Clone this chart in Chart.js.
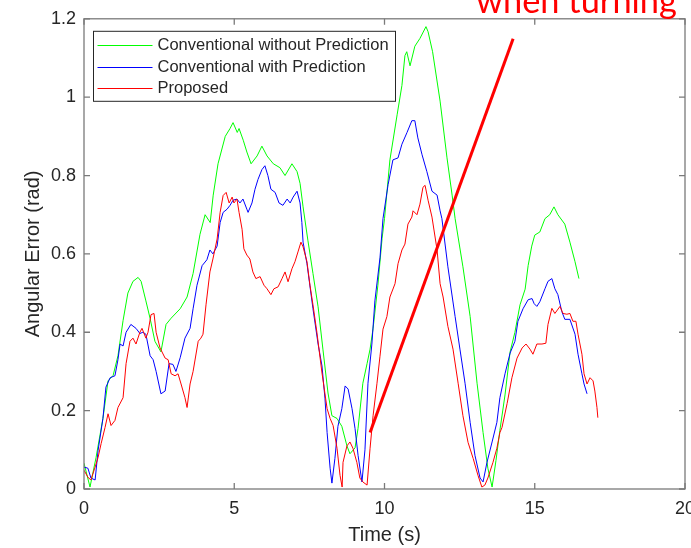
<!DOCTYPE html>
<html>
<head>
<meta charset="utf-8">
<title>Angular error</title>
<script src="https://cdn.jsdelivr.net/npm/chart.js@4.4.1/dist/chart.umd.min.js"></script>
<style>
  html, body { margin: 0; padding: 0; background: #fff; }
  canvas { display: block; }
</style>
</head>
<body>
<canvas id="chart" width="691" height="548"></canvas>
<script>
const xTicks = [0, 5, 10, 15, 20];
const yTicks = [0, 0.2, 0.4, 0.6, 0.8, 1, 1.2];
const yTickLabels = ["0", "0.2", "0.4", "0.6", "0.8", "1", "1.2"];

const seriesNames = [
  "Conventional without Prediction",
  "Conventional with Prediction",
  "Proposed",
];
const seriesColors = ["#00ff00", "#0000ff", "#ff0000"];

// Conventional without Prediction (green)
const noPredTime = [0, 0.2, 0.4, 0.63, 0.8, 0.97, 1.13, 1.3, 1.46, 1.63, 1.8, 1.9, 2.06, 2.2, 2.36, 2.56, 2.73, 2.9, 3.2, 3.43, 3.63, 3.86, 4.03, 4.2, 4.3, 4.46, 4.7, 4.86, 4.96, 5.1, 5.16, 5.3, 5.42, 5.56, 5.76, 5.92, 6.09, 6.3, 6.52, 6.69, 6.92, 7.09, 7.19, 7.29, 7.45, 7.62, 7.79, 7.95, 8.12, 8.25, 8.42, 8.58, 8.75, 8.85, 9.02, 9.12, 9.28, 9.42, 9.52, 9.62, 9.78, 9.92, 10.0, 10.18, 10.42, 10.58, 10.68, 10.74, 10.85, 11.01, 11.18, 11.38, 11.45, 11.6, 11.85, 12.08, 12.25, 12.35, 12.61, 12.85, 13.08, 13.28, 13.44, 13.58, 13.71, 13.84, 14.01, 14.18, 14.34, 14.51, 14.68, 14.78, 14.9, 15.0, 15.17, 15.34, 15.5, 15.64, 15.77, 16.0, 16.17, 16.34, 16.47];
const noPredErr = [0.066, 0.005, 0.08, 0.18, 0.276, 0.29, 0.34, 0.43, 0.5, 0.53, 0.54, 0.53, 0.48, 0.435, 0.377, 0.35, 0.42, 0.436, 0.46, 0.49, 0.55, 0.65, 0.7, 0.68, 0.75, 0.83, 0.9, 0.92, 0.935, 0.91, 0.92, 0.89, 0.86, 0.83, 0.85, 0.875, 0.85, 0.83, 0.82, 0.8, 0.83, 0.81, 0.78, 0.72, 0.635, 0.55, 0.465, 0.357, 0.245, 0.187, 0.18, 0.16, 0.11, 0.09, 0.105, 0.155, 0.27, 0.32, 0.357, 0.41, 0.52, 0.64, 0.69, 0.84, 0.955, 1.03, 1.106, 1.116, 1.08, 1.13, 1.15, 1.18, 1.167, 1.116, 0.99, 0.845, 0.75, 0.69, 0.567, 0.44, 0.27, 0.144, 0.053, 0.005, 0.073, 0.15, 0.24, 0.35, 0.4, 0.47, 0.51, 0.57, 0.62, 0.648, 0.656, 0.69, 0.7, 0.72, 0.7, 0.676, 0.63, 0.58, 0.537];

// Conventional with Prediction (blue)
const withPredTime = [0, 0.13, 0.23, 0.37, 0.47, 0.63, 0.73, 0.87, 1.03, 1.13, 1.2, 1.3, 1.4, 1.56, 1.73, 1.86, 1.96, 2.06, 2.2, 2.3, 2.4, 2.56, 2.7, 2.83, 2.96, 3.06, 3.2, 3.36, 3.53, 3.63, 3.76, 3.93, 4.09, 4.19, 4.29, 4.43, 4.53, 4.63, 4.76, 4.86, 4.96, 5.09, 5.19, 5.29, 5.42, 5.46, 5.59, 5.69, 5.79, 5.92, 6.02, 6.12, 6.22, 6.36, 6.49, 6.62, 6.76, 6.86, 6.96, 7.09, 7.19, 7.25, 7.29, 7.42, 7.55, 7.62, 7.79, 7.92, 8.02, 8.09, 8.19, 8.25, 8.35, 8.45, 8.58, 8.69, 8.79, 8.92, 9.02, 9.12, 9.25, 9.35, 9.45, 9.58, 9.68, 9.85, 9.95, 10.12, 10.28, 10.45, 10.58, 10.75, 10.91, 11.01, 11.11, 11.25, 11.41, 11.58, 11.75, 11.85, 11.91, 12.11, 12.35, 12.51, 12.68, 12.85, 13.01, 13.18, 13.28, 13.41, 13.58, 13.74, 13.84, 14.01, 14.18, 14.34, 14.44, 14.61, 14.78, 14.91, 14.98, 15.07, 15.17, 15.34, 15.44, 15.57, 15.67, 15.77, 15.9, 16.0, 16.17, 16.34, 16.44, 16.57, 16.64, 16.74];
const withPredErr = [0.056, 0.053, 0.028, 0.023, 0.099, 0.18, 0.26, 0.284, 0.289, 0.33, 0.37, 0.365, 0.4, 0.42, 0.41, 0.397, 0.4, 0.395, 0.34, 0.33, 0.3, 0.243, 0.25, 0.32, 0.318, 0.3, 0.335, 0.385, 0.41, 0.46, 0.52, 0.57, 0.585, 0.61, 0.6, 0.62, 0.68, 0.706, 0.714, 0.724, 0.737, 0.74, 0.73, 0.74, 0.714, 0.706, 0.73, 0.765, 0.79, 0.815, 0.825, 0.8, 0.765, 0.757, 0.73, 0.724, 0.74, 0.73, 0.745, 0.76, 0.73, 0.68, 0.63, 0.575, 0.5, 0.46, 0.37, 0.314, 0.23, 0.144, 0.053, 0.015, 0.078, 0.16, 0.205, 0.263, 0.255, 0.205, 0.154, 0.086, 0.018, 0.1, 0.27, 0.37, 0.48, 0.59, 0.69, 0.777, 0.84, 0.845, 0.88, 0.91, 0.94, 0.94, 0.896, 0.853, 0.81, 0.76, 0.75, 0.71, 0.69, 0.567, 0.44, 0.357, 0.27, 0.17, 0.086, 0.028, 0.018, 0.068, 0.12, 0.17, 0.233, 0.294, 0.347, 0.377, 0.428, 0.46, 0.483, 0.486, 0.473, 0.466, 0.478, 0.511, 0.53, 0.537, 0.511, 0.496, 0.453, 0.433, 0.433, 0.395, 0.344, 0.294, 0.268, 0.243];

// Proposed (red)
const proposedTime = [0, 0.13, 0.23, 0.37, 0.47, 0.57, 0.7, 0.8, 0.9, 1.03, 1.13, 1.3, 1.4, 1.53, 1.63, 1.73, 1.86, 1.93, 2.06, 2.13, 2.23, 2.33, 2.4, 2.53, 2.7, 2.8, 2.9, 3.03, 3.13, 3.23, 3.36, 3.43, 3.53, 3.63, 3.8, 3.89, 3.96, 4.06, 4.19, 4.29, 4.43, 4.53, 4.63, 4.73, 4.83, 4.93, 4.99, 5.09, 5.16, 5.26, 5.32, 5.42, 5.52, 5.62, 5.72, 5.86, 5.99, 6.09, 6.22, 6.32, 6.46, 6.59, 6.69, 6.79, 6.92, 7.02, 7.12, 7.22, 7.29, 7.42, 7.52, 7.62, 7.75, 7.92, 8.09, 8.19, 8.29, 8.42, 8.52, 8.59, 8.62, 8.75, 8.85, 8.95, 9.08, 9.18, 9.28, 9.42, 9.52, 9.62, 9.75, 9.85, 9.95, 10.08, 10.18, 10.35, 10.45, 10.58, 10.68, 10.78, 10.91, 10.95, 11.08, 11.18, 11.28, 11.35, 11.45, 11.58, 11.75, 11.85, 11.95, 12.11, 12.28, 12.45, 12.61, 12.78, 12.95, 13.11, 13.24, 13.34, 13.44, 13.61, 13.74, 13.84, 13.91, 14.08, 14.24, 14.41, 14.58, 14.71, 14.84, 14.94, 15.07, 15.24, 15.37, 15.44, 15.57, 15.67, 15.84, 15.94, 16.07, 16.17, 16.27, 16.37, 16.44, 16.57, 16.64, 16.74, 16.84, 16.94, 17.0, 17.07, 17.1];
const proposedErr = [0.048, 0.03, 0.023, 0.056, 0.081, 0.116, 0.157, 0.192, 0.162, 0.175, 0.208, 0.233, 0.32, 0.377, 0.385, 0.37, 0.4, 0.41, 0.385, 0.4, 0.445, 0.448, 0.4, 0.36, 0.334, 0.33, 0.294, 0.289, 0.294, 0.268, 0.233, 0.208, 0.268, 0.3, 0.377, 0.385, 0.395, 0.47, 0.554, 0.587, 0.638, 0.706, 0.749, 0.757, 0.73, 0.745, 0.73, 0.74, 0.706, 0.663, 0.613, 0.597, 0.587, 0.554, 0.537, 0.542, 0.52, 0.511, 0.496, 0.511, 0.516, 0.537, 0.554, 0.529, 0.562, 0.58, 0.605, 0.63, 0.618, 0.58, 0.52, 0.47, 0.4, 0.296, 0.205, 0.18, 0.162, 0.104, 0.035, 0.005, 0.068, 0.11, 0.12, 0.104, 0.068, 0.028, 0.018, 0.01, 0.104, 0.187, 0.27, 0.339, 0.408, 0.44, 0.49, 0.524, 0.575, 0.61, 0.625, 0.676, 0.694, 0.71, 0.7, 0.727, 0.77, 0.775, 0.737, 0.694, 0.61, 0.524, 0.49, 0.415, 0.357, 0.27, 0.187, 0.119, 0.078, 0.035, 0.005, 0.01, 0.028, 0.068, 0.104, 0.144, 0.157, 0.218, 0.284, 0.334, 0.36, 0.37, 0.357, 0.344, 0.37, 0.37, 0.372, 0.42, 0.461, 0.448, 0.466, 0.448, 0.446, 0.448, 0.428, 0.428, 0.395, 0.344, 0.294, 0.268, 0.284, 0.276, 0.25, 0.208, 0.182];

// hand-drawn red marker line and its note
const markTime = [9.52, 14.28];
const markErr = [0.144, 1.149];
const noteText = "when turning";

const axisFont = '"Liberation Sans", Arial, sans-serif';
const textColor = "#262626";

function toPoints(xs, ys) {
  return xs.map((x, i) => ({ x: x, y: ys[i] }));
}

function lineSet(label, xs, ys, color, order) {
  return {
    label: label,
    data: toPoints(xs, ys),
    borderColor: color,
    borderWidth: 1,
    pointRadius: 0,
    tension: 0,
    fill: false,
    borderJoinStyle: "round",
    order: order,
  };
}

// axes box with inward ticks, like MATLAB
const framePlugin = {
  id: "frame",
  afterDatasetsDraw(chart) {
    const { ctx, chartArea: a, scales } = chart;
    const tl = 6;
    ctx.save();
    ctx.strokeStyle = "#7a7a7a";
    ctx.lineWidth = 1.3;
    ctx.strokeRect(a.left, a.top, a.right - a.left, a.bottom - a.top);
    ctx.beginPath();
    xTicks.forEach((v) => {
      const px = scales.x.getPixelForValue(v);
      ctx.moveTo(px, a.bottom);
      ctx.lineTo(px, a.bottom - tl);
      ctx.moveTo(px, a.top);
      ctx.lineTo(px, a.top + tl);
    });
    yTicks.forEach((v) => {
      const py = scales.y.getPixelForValue(v);
      ctx.moveTo(a.left, py);
      ctx.lineTo(a.left + tl, py);
      ctx.moveTo(a.right, py);
      ctx.lineTo(a.right - tl, py);
    });
    ctx.stroke();
    ctx.restore();
  },
};

const legendPlugin = {
  id: "boxLegend",
  afterDraw(chart) {
    const { ctx, chartArea: a } = chart;
    const x0 = a.left + 9.5;
    const y0 = a.top + 12.5;
    ctx.save();
    ctx.fillStyle = "#fff";
    ctx.fillRect(x0, y0, 302, 70);
    ctx.strokeStyle = "#262626";
    ctx.lineWidth = 1;
    ctx.strokeRect(x0, y0, 302, 70);
    ctx.font = "16.5px " + axisFont;
    ctx.textBaseline = "middle";
    seriesNames.forEach((name, i) => {
      const y = Math.round(y0 + 14 + i * 21.5) + 0.5;
      ctx.strokeStyle = seriesColors[i];
      ctx.beginPath();
      ctx.moveTo(x0 + 4, y);
      ctx.lineTo(x0 + 59, y);
      ctx.stroke();
      ctx.fillStyle = textColor;
      ctx.fillText(name, x0 + 64, y);
    });

    // the red note, cut off at the top of the picture
    ctx.font = "30px Lato";
    const w = ctx.measureText(noteText).width;
    ctx.font = (30 * 201) / w + "px Lato";
    ctx.fillStyle = "#ff0000";
    ctx.textBaseline = "alphabetic";
    ctx.fillText(noteText, 476, 13);
    ctx.restore();
  },
};

const ctx = document.getElementById("chart");

new Chart(ctx, {
  type: "line",
  data: {
    datasets: [
      lineSet(seriesNames[0], noPredTime, noPredErr, seriesColors[0], 3),
      lineSet(seriesNames[1], withPredTime, withPredErr, seriesColors[1], 2),
      lineSet(seriesNames[2], proposedTime, proposedErr, seriesColors[2], 1),
      {
        label: "marker",
        data: toPoints(markTime, markErr),
        borderColor: "#ff0000",
        borderWidth: 3,
        pointRadius: 0,
        fill: false,
        order: 0,
      },
    ],
  },
  options: {
    responsive: false,
    animation: false,
    layout: { padding: { left: 0, right: 6, top: 16, bottom: 0 } },
    plugins: {
      legend: { display: false },
      tooltip: { enabled: false },
    },
    scales: {
      x: {
        type: "linear",
        min: 0,
        max: 20,
        afterBuildTicks: (s) => {
          s.ticks = xTicks.map((v) => ({ value: v }));
        },
        afterFit: (s) => {
          s.height = 59;
          s.paddingLeft = 0;
          s.paddingRight = 0;
        },
        grid: { display: false, drawTicks: false },
        border: { display: false },
        ticks: {
          padding: 9,
          maxRotation: 0,
          autoSkip: false,
          color: textColor,
          font: { family: axisFont, size: 18 },
        },
        title: {
          display: true,
          text: "Time (s)",
          color: textColor,
          font: { family: axisFont, size: 20 },
          padding: { top: 0, bottom: 1 },
        },
      },
      y: {
        min: 0,
        max: 1.2,
        afterBuildTicks: (s) => {
          s.ticks = yTicks.map((v) => ({ value: v }));
        },
        afterFit: (s) => {
          s.width = 84;
        },
        grid: { display: false, drawTicks: false },
        border: { display: false },
        ticks: {
          padding: 8,
          autoSkip: false,
          color: textColor,
          font: { family: axisFont, size: 18 },
          callback: (v) => yTickLabels[yTicks.indexOf(v)],
        },
        title: {
          display: true,
          text: "Angular Error (rad)",
          color: textColor,
          font: { family: axisFont, size: 20 },
          padding: { top: 21, bottom: 0 },
        },
      },
    },
  },
  plugins: [framePlugin, legendPlugin],
});
</script>
</body>
</html>
